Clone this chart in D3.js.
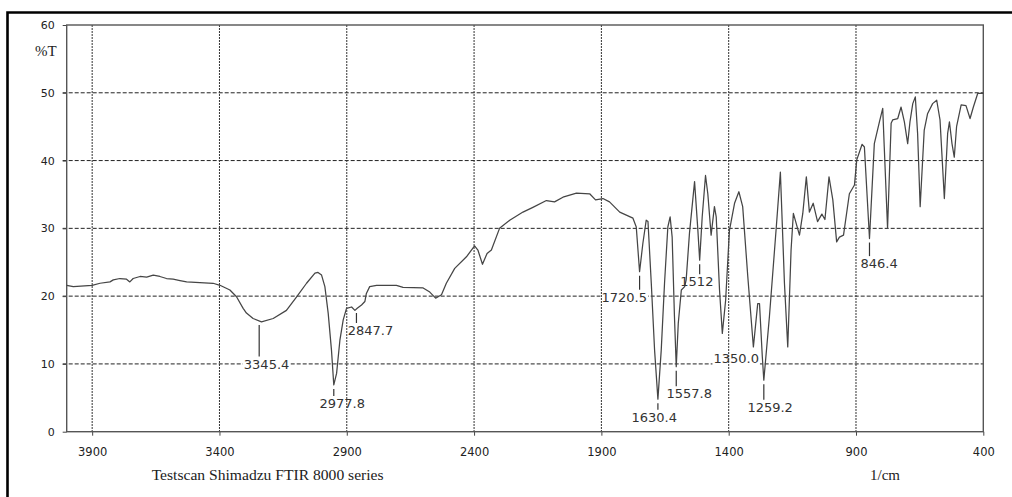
<!DOCTYPE html>
<html>
<head>
<meta charset="utf-8">
<script src="https://cdn.jsdelivr.net/npm/d3@7"></script>
<style>
  body { margin: 0; background: #fff; }
  svg text { font-family: "DejaVu Sans", sans-serif; }
  .serif { font-family: "Liberation Serif", "Times New Roman", serif; }
</style>
</head>
<body>
<div class="container"></div>
<script>
// spectrum (1/cm, %T)
const wavenumber = [4000,3974,3900,3869,3830,3817,3791,3765,3752,3739,
  3712,3686,3660,3634,3608,3582,3555,3529,3477,3425,
  3398,3359,3333,3307,3294,3268,3235,3189,3137,3097,
  3058,3025,3013,2999,2986,2973,2960,2951,2940,2927,
  2914,2901,2881,2868,2859,2842,2829,2823,2810,2783,
  2705,2679,2600,2574,2551,2528,2509,2476,2430,2398,
  2385,2367,2349,2332,2300,2260,2208,2169,2116,2084,
  2051,1998,1946,1923,1894,1868,1828,1776,1763,1750,
  1737,1724,1717,1704,1691,1678,1665,1652,1639,1630,
  1622,1613,1606,1598,1586,1573,1567,1554,1534,1521,
  1514,1504,1491,1482,1469,1456,1449,1436,1425,1412,
  1397,1377,1360,1345,1325,1303,1286,1279,1268,1262,
  1240,1213,1197,1181,1168,1155,1146,1122,1109,1095,
  1083,1068,1051,1034,1022,1006,991,976,965,949,
  926,906,897,876,867,847,828,808,795,789,
  776,762,756,736,723,710,697,688,677,667,
  658,648,632,619,599,583,570,553,540,533,
  523,514,505,487,468,452,439,422,400];
const transmittance = [21.6,21.4,21.6,21.9,22.1,22.4,22.6,22.5,22.1,22.6,
  22.9,22.8,23.1,22.9,22.6,22.5,22.3,22.1,22.0,21.9,
  21.6,20.9,19.9,18.2,17.5,16.7,16.2,16.7,17.9,19.9,
  21.9,23.4,23.5,23.1,21.4,17.5,12.0,6.9,8.6,13.5,
  16.5,18.2,18.4,17.9,18.2,18.7,19.2,20.4,21.4,21.6,
  21.6,21.3,21.2,20.6,19.7,20.2,21.9,24.1,25.8,27.4,
  26.8,24.7,26.3,26.8,30.0,31.2,32.4,33.1,34.1,33.9,
  34.6,35.2,35.1,34.2,34.4,33.9,32.4,31.5,30.2,23.6,
  27.8,31.2,31.0,21.9,12.0,4.8,12.0,21.9,30.2,31.7,
  28.7,17.0,9.6,16.0,20.9,21.4,22.4,29.3,36.9,29.7,
  25.3,31.7,37.8,35.1,29.0,33.2,31.7,20.9,14.5,19.4,
  29.7,33.7,35.4,33.2,22.9,12.5,18.9,18.9,11.1,7.6,
  17.0,30.2,38.3,21.9,12.5,26.8,32.2,29.0,32.2,37.6,
  32.4,33.7,31.0,32.1,31.3,37.6,34.2,28.0,28.7,29.0,
  35.1,36.4,40.1,42.4,42.0,28.5,42.5,45.7,47.7,42.0,
  30.0,45.5,46.0,46.2,47.9,45.7,42.5,45.7,48.4,49.4,
  44.0,33.2,44.5,46.9,48.4,48.9,46.0,34.4,44.0,45.7,
  42.5,40.5,45.0,48.2,48.1,46.2,47.9,49.9,49.9];

// peak picks
const peakLabels = ['3345.4','2977.8','2847.7','1720.5','1630.4','1557.8','1512','1350.0','1259.2','846.4'];
const peakWn = [3244, 2951, 2862, 1750, 1678, 1606, 1514, 1303, 1262, 847];

const xTicks = [3900, 3400, 2900, 2400, 1900, 1400, 900, 400];
const yTicks = [0, 10, 20, 30, 40, 50, 60];

// where each peak label sits, px from the dip
const labelDx = [7.4, 8.5, 14, -15.3, -3.7, 13, -2.8, -17.2, 6.3, 9.6];
const labelDy = [47.6, 23, 26, 30, 22.6, 31.7, 26, 16.4, 31.5, 29.6];

// setup
const w = 1012;
const h = 497;
const [plotLeft, plotRight, plotTop, plotBottom] = [66.7, 983.3, 25, 431.7];

const svg = d3.select('.container')
              .append('svg')
              .attr('width', w)
              .attr('height', h);

const x = d3.scaleLinear().domain([4000, 400]).range([plotLeft, plotRight]);
const y = d3.scaleLinear().domain([0, 60]).range([plotBottom, plotTop]);
const tAt = d3.scaleLinear().domain(wavenumber).range(transmittance);

// outer black frame (runs off the right and bottom)
svg.append('path')
   .attr('d', `M7.5,${h + 5} V12.5 H${w + 5}`)
   .attr('fill', 'none')
   .attr('stroke', '#000')
   .attr('stroke-width', 2.6);

// horizontal grid
svg.append('g').selectAll('line')
   .data(yTicks.filter(v => v > 0 && v < 60))
   .enter().append('line')
   .attr('x1', plotLeft - 4).attr('x2', plotRight)
   .attr('y1', d => y(d)).attr('y2', d => y(d))
   .attr('stroke', '#222')
   .attr('stroke-dasharray', '4,2');

// peak label boxes hide the horizontal grid
const boxes = svg.append('g');

// vertical grid
svg.append('g').selectAll('line')
   .data(xTicks.filter(v => v !== 400))
   .enter().append('line')
   .attr('x1', d => x(d)).attr('x2', d => x(d))
   .attr('y1', plotTop).attr('y2', plotBottom)
   .attr('stroke', '#333')
   .attr('stroke-dasharray', '2,1');

// axes
const xAxis = d3.axisBottom(x).tickValues(xTicks).tickFormat(d3.format('d'))
                .tickSize(4).tickSizeOuter(0).tickPadding(12);
const yAxis = d3.axisLeft(y).tickValues(yTicks).tickFormat(d3.format('d'))
                .tickSize(4).tickSizeOuter(0).tickPadding(8);

const xGroup = svg.append('g').attr('transform', `translate(0, ${plotBottom})`).call(xAxis);
const yGroup = svg.append('g').attr('transform', `translate(${plotLeft}, 0)`).call(yAxis);

[xGroup, yGroup].forEach(g => {
    g.select('.domain').remove();
    g.selectAll('line').attr('stroke', '#444');
    g.selectAll('text').attr('fill', '#222').attr('font-size', '11.5px')
     .attr('font-family', '"DejaVu Sans", sans-serif');
});
yGroup.selectAll('text').attr('font-size', '11px');

// plot box
svg.append('rect')
   .attr('x', plotLeft).attr('y', plotTop)
   .attr('width', plotRight - plotLeft).attr('height', plotBottom - plotTop)
   .attr('fill', 'none')
   .attr('stroke', '#555')
   .attr('stroke-width', 1.4);

// spectrum
const line = d3.line()
               .x((d, i) => x(wavenumber[i]))
               .y(d => y(d));

svg.append('path')
   .datum(transmittance)
   .attr('d', line)
   .attr('fill', 'none')
   .attr('stroke', '#454545')
   .attr('stroke-width', 1.25)
   .attr('stroke-linejoin', 'round');

// peak markers + labels
const peaks = svg.append('g');
peakWn.forEach((wn, i) => {
    const px = x(wn);
    const py = y(tAt(wn));
    const base = py + labelDy[i];
    if (base - 12 > py + 5) {
        peaks.append('line')
             .attr('x1', px).attr('x2', px)
             .attr('y1', py + 4).attr('y2', base - 12)
             .attr('stroke', '#333')
             .attr('stroke-width', 1.2);
    }
    const t = peaks.append('text')
                   .attr('x', px + labelDx[i])
                   .attr('y', base)
                   .attr('text-anchor', 'middle')
                   .attr('font-size', '13px')
                   .attr('fill', '#333')
                   .text(peakLabels[i]);
    const b = t.node().getBBox();
    boxes.append('rect')
         .attr('x', b.x - 1).attr('y', b.y + 1)
         .attr('width', b.width + 2).attr('height', b.height - 2)
         .attr('fill', '#fff');
});

// titles
svg.append('text').attr('class', 'serif')
   .attr('x', 35).attr('y', 56)
   .attr('font-size', '15px').attr('fill', '#222')
   .text('%T');

svg.append('text').attr('class', 'serif')
   .attr('x', 151.7).attr('y', 480)
   .attr('font-size', '15.6px').attr('fill', '#222')
   .text('Testscan Shimadzu FTIR 8000 series');

svg.append('text').attr('class', 'serif')
   .attr('x', 870).attr('y', 480)
   .attr('font-size', '15px').attr('fill', '#222')
   .text('1/cm');
</script>
</body>
</html>
